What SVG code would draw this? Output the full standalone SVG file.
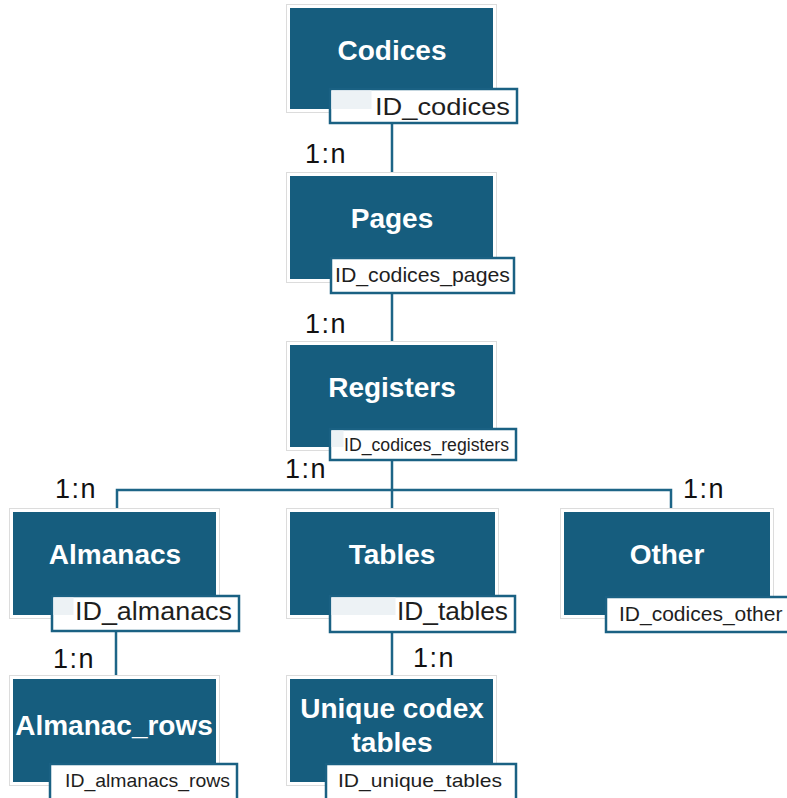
<svg xmlns="http://www.w3.org/2000/svg" width="787" height="798" viewBox="0 0 787 798">
<style>
.card{fill:#ffffff;stroke:#dcdcdc;stroke-width:1}
.box{fill:#165d7e}
.title{font-family:"Liberation Sans",Arial,sans-serif;font-weight:bold;font-size:28px;fill:#ffffff;text-anchor:middle}
.lab{fill:#ffffff;stroke:#1a6183;stroke-width:2.5}
.band{fill:#edf2f5}
.id{font-family:"Liberation Sans",Arial,sans-serif;font-size:24px;fill:#1e1e1e;text-anchor:end}
.card-line{fill:none;stroke:#1d6587;stroke-width:2.5}
.rel{font-family:"Liberation Sans",Arial,sans-serif;font-size:27px;fill:#111111;letter-spacing:1.5px}
</style>
<rect width="787" height="798" fill="#ffffff"/>
<g id="connectors">
<path class="card-line" d="M392 123V176"/>
<path class="card-line" d="M392 293V345"/>
<path class="card-line" d="M392 460V512"/>
<path class="card-line" d="M117 512V490H671V512"/>
<path class="card-line" d="M116 631V679"/>
<path class="card-line" d="M392 632V679"/>
<text class="rel" x="305" y="163">1:n</text>
<text class="rel" x="305" y="333">1:n</text>
<text class="rel" x="285" y="478">1:n</text>
<text class="rel" x="55" y="498">1:n</text>
<text class="rel" x="683" y="498">1:n</text>
<text class="rel" x="53" y="668">1:n</text>
<text class="rel" x="413" y="667">1:n</text>
</g>
<g id="codices">
<rect class="card" x="286.5" y="4.5" width="210" height="108"/>
<rect class="box" x="290" y="8" width="203" height="101"/>
<rect class="lab" x="330" y="89" width="187" height="34"/>
<rect class="band" x="331.5" y="90.5" width="40" height="18.5"/>
<text class="title" x="392" y="60">Codices</text>
<text class="id" x="510" y="115" font-size="26" textLength="135" lengthAdjust="spacingAndGlyphs">ID_codices</text>
</g>
<g id="pages">
<rect class="card" x="286.5" y="172.5" width="210" height="110"/>
<rect class="box" x="290" y="176" width="203" height="103"/>
<rect class="lab" x="331" y="258" width="183" height="35"/>
<text class="title" x="392" y="228">Pages</text>
<text class="id" x="510" y="282" style="font-size:21px" textLength="175" lengthAdjust="spacingAndGlyphs">ID_codices_pages</text>
</g>
<g id="registers">
<rect class="card" x="286.5" y="341.5" width="210" height="109"/>
<rect class="box" x="290" y="345" width="203" height="102"/>
<rect class="lab" x="330" y="429" width="186" height="31"/>
<rect class="band" x="331.5" y="430.5" width="12" height="16.5"/>
<text class="title" x="392" y="397">Registers</text>
<text class="id" x="509" y="451" style="font-size:18px" textLength="165" lengthAdjust="spacingAndGlyphs">ID_codices_registers</text>
</g>
<g id="almanacs">
<rect class="card" x="9.5" y="508.5" width="210" height="110"/>
<rect class="box" x="13" y="512" width="203" height="103"/>
<rect class="lab" x="52" y="596" width="187" height="35"/>
<rect class="band" x="53.5" y="597.5" width="20" height="17.5"/>
<text class="title" x="115" y="564">Almanacs</text>
<text class="id" x="232" y="620" style="font-size:26px" textLength="157" lengthAdjust="spacingAndGlyphs">ID_almanacs</text>
</g>
<g id="tables">
<rect class="card" x="286.5" y="508.5" width="212" height="110"/>
<rect class="box" x="290" y="512" width="205" height="103"/>
<rect class="lab" x="330" y="596" width="185" height="36"/>
<rect class="band" x="331.5" y="597.5" width="64" height="17.5"/>
<text class="title" x="392" y="564">Tables</text>
<text class="id" x="508" y="620" style="font-size:26px" textLength="111" lengthAdjust="spacingAndGlyphs">ID_tables</text>
</g>
<g id="other">
<rect class="card" x="560.5" y="508.5" width="213" height="110"/>
<rect class="box" x="564" y="512" width="206" height="103"/>
<rect class="lab" x="606" y="597" width="190" height="35"/>
<text class="title" x="667" y="564">Other</text>
<text x="619" y="621" style="font-family:'Liberation Sans',Arial,sans-serif;font-size:21px;fill:#1e1e1e">ID_codices_other</text>
</g>
<g id="almanac_rows">
<rect class="card" x="9.5" y="675.5" width="210" height="110"/>
<rect class="box" x="13" y="679" width="203" height="103"/>
<rect class="lab" x="50" y="764" width="187" height="36"/>
<text class="title" x="114" y="735">Almanac_rows</text>
<text class="id" x="230" y="787" style="font-size:19px" textLength="165" lengthAdjust="spacingAndGlyphs">ID_almanacs_rows</text>
</g>
<g id="unique_codex_tables">
<rect class="card" x="286.5" y="675.5" width="210" height="110"/>
<rect class="box" x="290" y="679" width="203" height="103"/>
<rect class="lab" x="326" y="764" width="190" height="36"/>
<text class="title" x="392" y="718">Unique codex</text>
<text class="title" x="392" y="752">tables</text>
<text class="id" x="502" y="787" style="font-size:19px" textLength="164" lengthAdjust="spacingAndGlyphs">ID_unique_tables</text>
</g>
</svg>
